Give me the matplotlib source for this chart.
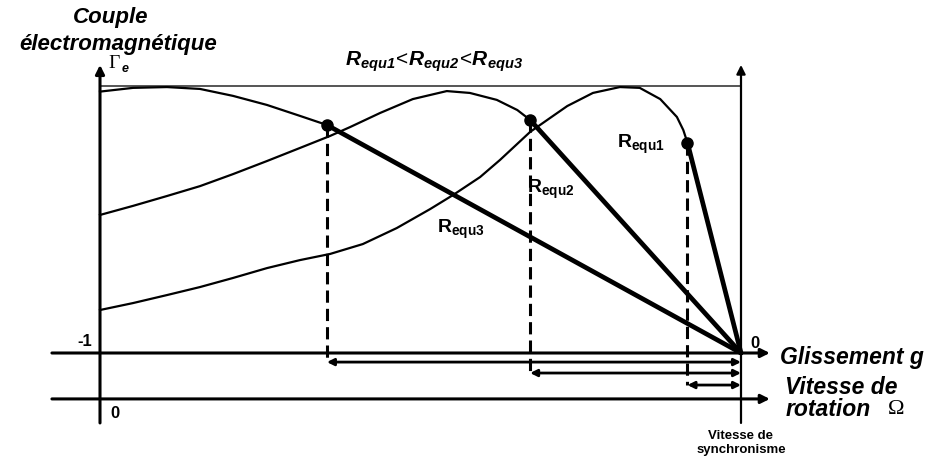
import numpy as np
import matplotlib.pyplot as plt

# Torque-slip curves, x = 1 - g (0 at standstill, 1 at synchronous speed),
# torque normalised to the peak value.
x_r3 = [0.0, 0.0515, 0.1045, 0.156, 0.2075, 0.2605, 0.312, 0.354]
c_r3 = [0.979, 0.993, 0.996, 0.989, 0.963, 0.929, 0.888, 0.854]

x_r2 = [0.0, 0.0515, 0.1045, 0.156, 0.2075, 0.2605, 0.312, 0.359, 0.390, 0.437,
        0.488, 0.541, 0.577, 0.619, 0.651, 0.671]
c_r2 = [0.517, 0.551, 0.588, 0.625, 0.670, 0.719, 0.768, 0.813, 0.846, 0.899,
        0.951, 0.981, 0.974, 0.948, 0.910, 0.873]

x_r1 = [0.0, 0.0515, 0.1045, 0.156, 0.2075, 0.2605, 0.312, 0.359, 0.410, 0.463,
        0.515, 0.551, 0.593, 0.624, 0.671, 0.702, 0.729, 0.769, 0.811, 0.842,
        0.874, 0.900, 0.910, 0.9165]
c_r1 = [0.161, 0.187, 0.217, 0.247, 0.281, 0.318, 0.348, 0.371, 0.408, 0.468,
        0.539, 0.592, 0.659, 0.723, 0.828, 0.880, 0.925, 0.974, 0.996, 0.993,
        0.951, 0.884, 0.835, 0.787]

# operating points (end of each curve) and arrow levels under the g axis
x_op = [x_r3[-1], x_r2[-1], x_r1[-1]]
c_op = [c_r3[-1], c_r2[-1], c_r1[-1]]
y_arrow = [-0.034, -0.075, -0.120]
names = [r'$\mathsf{R_{equ3}}$', r'$\mathsf{R_{equ2}}$', r'$\mathsf{R_{equ1}}$']
name_pos = [(0.526, 0.449), (0.666, 0.599), (0.807, 0.768)]

y_omega = -0.172
y_bottom = -0.262
y_top = 1.079

plt.rcParams['font.family'] = 'Liberation Sans'
plt.rcParams['mathtext.fontset'] = 'custom'
plt.rcParams['mathtext.bf'] = 'Liberation Sans:italic:bold'
plt.rcParams['mathtext.sf'] = 'Liberation Sans:bold'
plt.rcParams['mathtext.rm'] = 'Liberation Sans'

fig = plt.figure(figsize=(9.39, 4.59), dpi=100)
ax = fig.add_axes([0, 0, 1, 1])
ax.set_xlim(-100 / 641, 839 / 641)
ax.set_ylim(-106 / 267, 353 / 267)
ax.axis('off')

k = 'black'
arrow = dict(arrowstyle='-|>', color=k, lw=2.2, mutation_scale=13, shrinkA=0, shrinkB=0)
both = dict(arrowstyle='<|-|>', color=k, lw=2.0, mutation_scale=10, shrinkA=0, shrinkB=0)

# axes
ax.annotate('', xy=(1.045, 0), xytext=(-0.075, 0), arrowprops=arrow)
ax.annotate('', xy=(1.045, y_omega), xytext=(-0.075, y_omega), arrowprops=arrow)
ax.annotate('', xy=(0, y_top), xytext=(0, y_bottom), arrowprops=arrow)
ax.annotate('', xy=(1, y_top), xytext=(1, y_bottom), arrowprops=dict(arrow, lw=1.6))
ax.plot([0, 1], [1, 1], color='#555555', lw=1.4)

# torque curves
for xs, cs in [(x_r3, c_r3), (x_r2, c_r2), (x_r1, c_r1)]:
    ax.plot(xs, cs, color=k, lw=1.6, solid_joinstyle='round')

for xo, co, ya, nm, (tx, ty) in zip(x_op, c_op, y_arrow, names, name_pos):
    ax.plot([xo, 1], [co, 0], color=k, lw=3.4, solid_capstyle='round')
    ax.plot(xo, co, 'o', color=k, ms=8)
    ax.plot([xo, xo], [co, ya], color=k, lw=2.2, linestyle=(0, (4, 2)))
    ax.annotate('', xy=(1, ya), xytext=(xo, ya), arrowprops=both)
    ax.text(tx, ty, nm, fontsize=14, ha='left', va='baseline')

bi = dict(fontweight='bold', fontstyle='italic', fontsize=16)
ax.text(0.016, 1.255, 'Couple', ha='center', va='center', **bi)
ax.text(0.028, 1.157, 'électromagnétique', ha='center', va='center', **bi)
ax.text(0.0125, 1.086, 'Γ', family='Liberation Serif', fontsize=14, ha='left', va='center')
ax.text(0.034, 1.062, 'e', fontweight='bold', fontstyle='italic', fontsize=9, ha='left', va='center')
ax.text(0.521, 1.09, r'$\mathbf{R_{equ1}}\!{<}\!\mathbf{R_{equ2}}\!{<}\!\mathbf{R_{equ3}}$',
        fontsize=15, ha='center', va='center')

ax.text(-0.012, 0.026, '-1', fontweight='bold', fontsize=12, ha='right', va='baseline')
ax.text(0.016, -0.243, '0', fontweight='bold', fontsize=12, ha='left', va='baseline')
ax.text(1.014, 0.019, '0', fontweight='bold', fontsize=12, ha='left', va='baseline')

bi['fontsize'] = 16.5
ax.text(1.061, -0.015, 'Glissement g', ha='left', va='center', **bi)
ax.text(1.069, -0.131, 'Vitesse de', ha='left', va='center', **bi)
ax.text(1.069, -0.213, 'rotation', ha='left', va='center', **bi)
ax.text(1.229, -0.213, 'Ω', family='Liberation Serif', fontsize=16, ha='left', va='center')

ax.text(1.0, -0.311, 'Vitesse de', fontweight='bold', fontsize=9.5, ha='center', va='center')
ax.text(1.0, -0.363, 'synchronisme', fontweight='bold', fontsize=9.5, ha='center', va='center')

plt.savefig('out.png', dpi=100)
